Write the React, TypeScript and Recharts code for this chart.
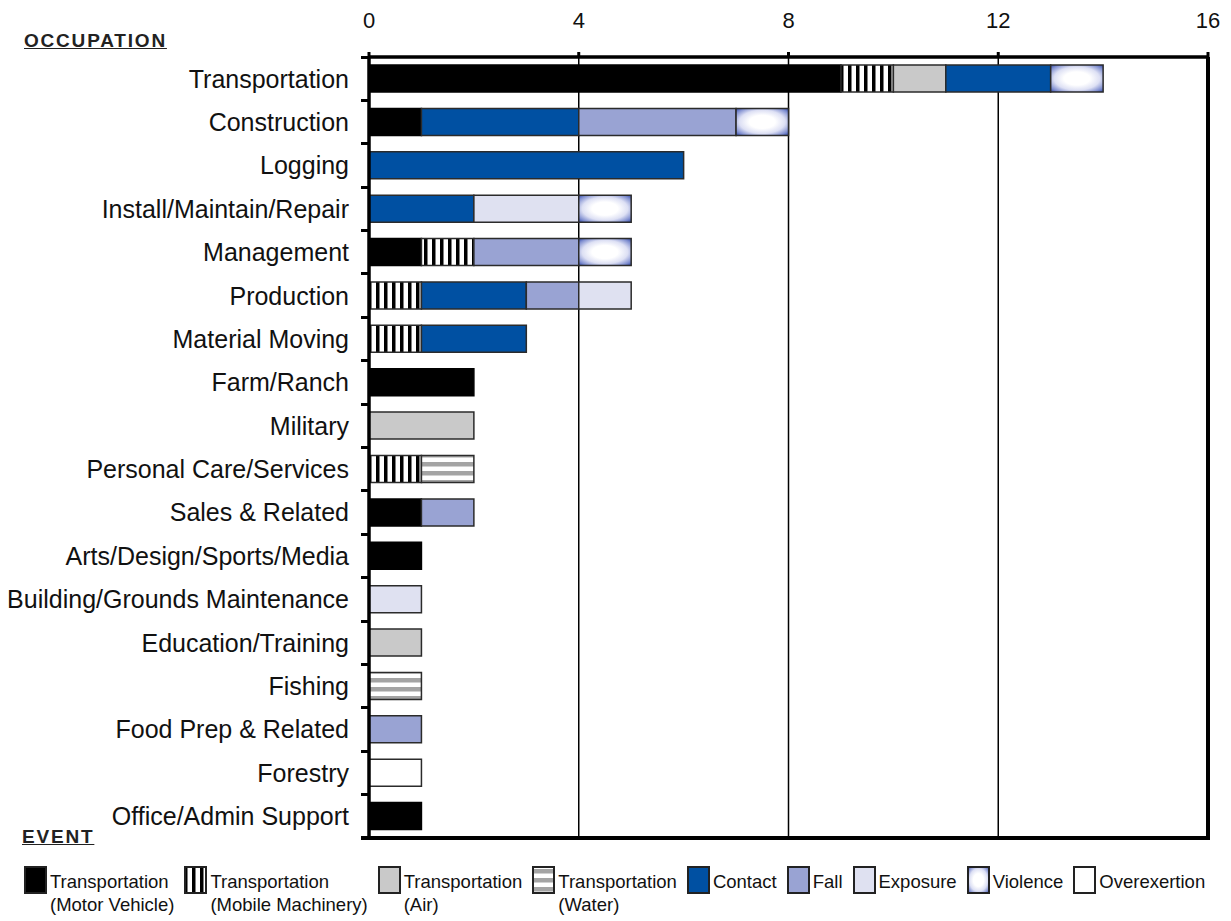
import React from "react"
import {
  BarChart,
  Bar,
  XAxis,
  YAxis,
  CartesianGrid,
  ReferenceLine,
} from "recharts"

const categories = [
  "Transportation",
  "Construction",
  "Logging",
  "Install/Maintain/Repair",
  "Management",
  "Production",
  "Material Moving",
  "Farm/Ranch",
  "Military",
  "Personal Care/Services",
  "Sales & Related",
  "Arts/Design/Sports/Media",
  "Building/Grounds Maintenance",
  "Education/Training",
  "Fishing",
  "Food Prep & Related",
  "Forestry",
  "Office/Admin Support",
]

const motorVehicle = [9, 1, 0, 0, 1, 0, 0, 2, 0, 0, 1, 1, 0, 0, 0, 0, 0, 1]
const mobileMachinery = [1, 0, 0, 0, 1, 1, 1, 0, 0, 1, 0, 0, 0, 0, 0, 0, 0, 0]
const air = [1, 0, 0, 0, 0, 0, 0, 0, 2, 0, 0, 0, 0, 1, 0, 0, 0, 0]
const water = [0, 0, 0, 0, 0, 0, 0, 0, 0, 1, 0, 0, 0, 0, 1, 0, 0, 0]
const contact = [2, 3, 6, 2, 0, 2, 2, 0, 0, 0, 0, 0, 0, 0, 0, 0, 0, 0]
const fall = [0, 3, 0, 0, 2, 1, 0, 0, 0, 0, 1, 0, 0, 0, 0, 1, 0, 0]
const exposure = [0, 0, 0, 2, 0, 1, 0, 0, 0, 0, 0, 0, 1, 0, 0, 0, 0, 0]
const violence = [1, 1, 0, 1, 1, 0, 0, 0, 0, 0, 0, 0, 0, 0, 0, 0, 0, 0]
const overexertion = [0, 0, 0, 0, 0, 0, 0, 0, 0, 0, 0, 0, 0, 0, 0, 0, 1, 0]

const xTicks = [0, 4, 8, 12, 16]

const series = [
  { key: "mv", values: motorVehicle, fill: "#000000", line1: "Transportation", line2: "(Motor Vehicle)" },
  { key: "mm", values: mobileMachinery, fill: "url(#mmStripes)", line1: "Transportation", line2: "(Mobile Machinery)" },
  { key: "air", values: air, fill: "#c9c9c9", line1: "Transportation", line2: "(Air)" },
  { key: "water", values: water, fill: "url(#waterStripes)", line1: "Transportation", line2: "(Water)" },
  { key: "contact", values: contact, fill: "#0050a2", line1: "Contact", line2: "" },
  { key: "fall", values: fall, fill: "#99a3d3", line1: "Fall", line2: "" },
  { key: "exposure", values: exposure, fill: "#dfe1f1", line1: "Exposure", line2: "" },
  { key: "violence", values: violence, fill: "url(#violenceGlow)", line1: "Violence", line2: "" },
  { key: "overexertion", values: overexertion, fill: "#ffffff", line1: "Overexertion", line2: "" },
]

const data = categories.map((name, i) => {
  const row: Record<string, string | number> = { name }
  series.forEach((s) => {
    row[s.key] = s.values[i]
  })
  return row
})

const FONT = '"Liberation Sans", Arial, Helvetica, sans-serif'

// plot frame (matches the chart margins / axis sizes below)
const PLOT_LEFT = 369
const PLOT_TOP = 57
const PLOT_W = 839
const PLOT_H = 781
const BAND = PLOT_H / categories.length

function Swatch({ fill }: { fill: string }) {
  return (
    <svg width={23} height={28} style={{ display: "block", flex: "none" }}>
      <rect x={1} y={1} width={21} height={26} fill={fill} stroke="#222" strokeWidth={2} />
    </svg>
  )
}

const headingStyle: React.CSSProperties = {
  position: "absolute",
  fontSize: 19,
  fontWeight: "bold",
  textDecoration: "underline",
  letterSpacing: 1.8,
  color: "#222",
}

export default function App() {
  return (
    <div
      style={{
        position: "absolute",
        left: 0,
        top: 0,
        width: 1231,
        height: 921,
        background: "#fff",
        fontFamily: FONT,
      }}
    >
      <BarChart
        width={1231}
        height={921}
        data={data}
        layout="vertical"
        margin={{ top: 0, right: 23, bottom: 83, left: 0 }}
        barSize={27}
      >
        <defs>
          <pattern id="mmStripes" patternUnits="userSpaceOnUse" width={8} height={8}>
            <rect x={0} y={0} width={8} height={8} fill="#ffffff" />
            <rect x={0} y={0} width={3.5} height={8} fill="#000000" />
          </pattern>
          <pattern id="waterStripes" patternUnits="userSpaceOnUse" width={9} height={9} y={3}>
            <rect x={0} y={0} width={9} height={9} fill="#ffffff" />
            <rect x={0} y={0} width={9} height={4.5} fill="#a4a4a4" />
          </pattern>
          <radialGradient id="violenceGlow" cx="50%" cy="50%" r="70%">
            <stop offset="0%" stopColor="#ffffff" />
            <stop offset="35%" stopColor="#ffffff" />
            <stop offset="62%" stopColor="#dde0f4" />
            <stop offset="85%" stopColor="#7f8ed0" />
            <stop offset="100%" stopColor="#2f48a8" />
          </radialGradient>
        </defs>
        <CartesianGrid horizontal={false} stroke="#000" strokeWidth={1.5} />
        <XAxis
          type="number"
          orientation="top"
          domain={[0, 16]}
          ticks={xTicks}
          height={PLOT_TOP}
          axisLine={{ stroke: "#000", strokeWidth: 3.5 }}
          tickLine={{ stroke: "#000", strokeWidth: 3 }}
          tickSize={5}
          tickMargin={24}
          tick={{ fontSize: 22, fill: "#111", fontFamily: FONT }}
        />
        <YAxis
          type="category"
          dataKey="name"
          width={PLOT_LEFT}
          axisLine={{ stroke: "#000", strokeWidth: 3.5 }}
          tickLine={false}
          tickSize={0}
          tickMargin={20}
          interval={0}
          tick={{ fontSize: 25, fill: "#111", fontFamily: FONT }}
        />
        <ReferenceLine x={16} stroke="#000" strokeWidth={4} ifOverflow="visible" />
        {series.map((s) => (
          <Bar
            key={s.key}
            dataKey={s.key}
            stackId="events"
            fill={s.fill}
            stroke={s.key === "mv" ? "#000" : "#2b2b2b"}
            strokeWidth={1.5}
            isAnimationActive={false}
          />
        ))}
      </BarChart>

      {/* bottom frame line and the small notches between occupation bands */}
      <div
        style={{
          position: "absolute",
          left: PLOT_LEFT - 8,
          top: PLOT_TOP + PLOT_H - 2,
          width: PLOT_W + 10,
          height: 4,
          background: "#000",
        }}
      />
      {categories.map((c, i) => (
        <div
          key={c}
          style={{
            position: "absolute",
            left: PLOT_LEFT - 8,
            top: PLOT_TOP + i * BAND - 1.5,
            width: 8,
            height: 3,
            background: "#000",
          }}
        />
      ))}

      <div style={{ ...headingStyle, left: 24, top: 30 }}>OCCUPATION</div>
      <div style={{ ...headingStyle, left: 22, top: 826 }}>EVENT</div>

      <div
        style={{
          position: "absolute",
          left: 24,
          top: 866,
          display: "flex",
          gap: 10,
          fontSize: 18.5,
          color: "#111",
          lineHeight: "23px",
        }}
      >
        {series.map((s) => (
          <div key={s.key} style={{ display: "flex", alignItems: "flex-start", gap: 3 }}>
            <Swatch fill={s.fill} />
            <div style={{ whiteSpace: "nowrap", marginTop: 4 }}>
              <div>{s.line1}</div>
              {s.line2 && <div>{s.line2}</div>}
            </div>
          </div>
        ))}
      </div>
    </div>
  )
}
